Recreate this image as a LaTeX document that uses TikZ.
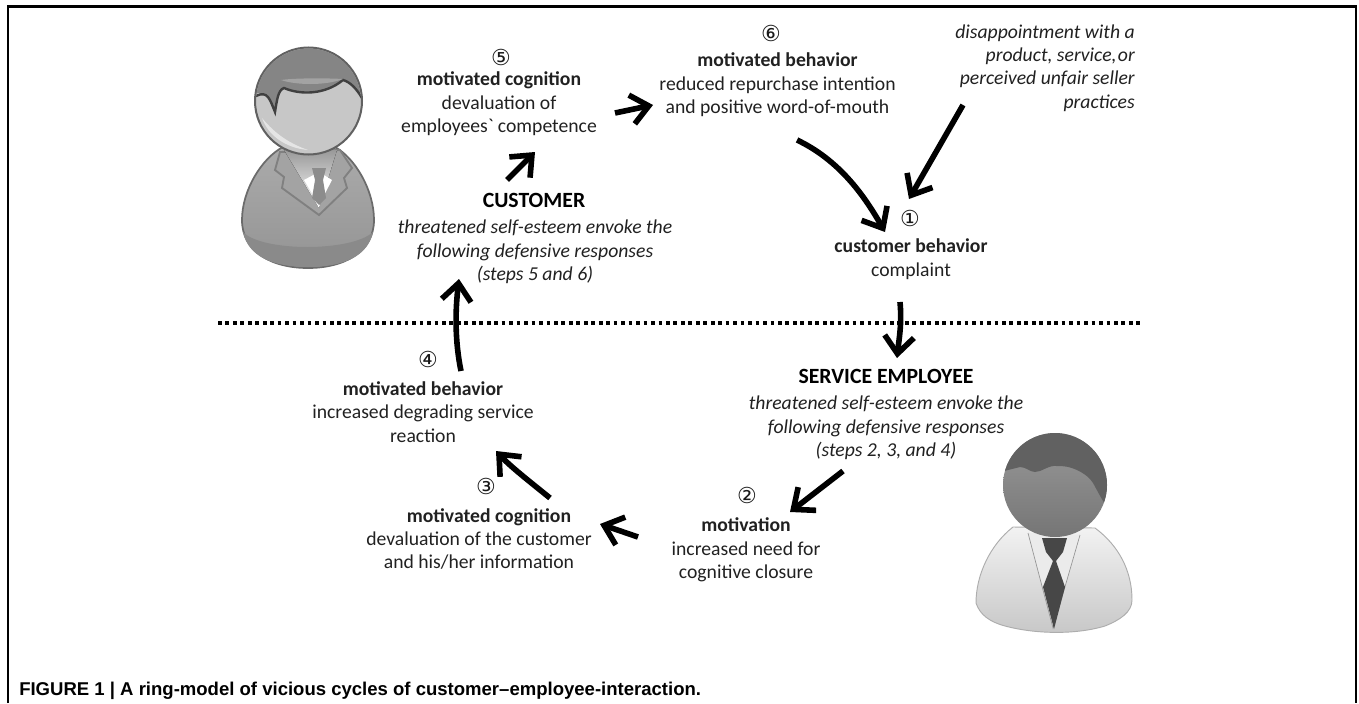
\documentclass[tikz,border=0pt]{standalone}
\usepackage{fontspec}
\setmainfont{Carlito}
\newfontfamily\plainfont{Carlito}
\newfontfamily\circfont{DejaVu Sans}
\newfontfamily\capfont{Liberation Sans}
\usetikzlibrary{arrows.meta,calc}
\definecolor{txt}{gray}{0.13}
\tikzset{
  block/.style={align=center,inner sep=0pt,text=txt,font=\fontsize{14.75}{17.6}\selectfont},
  blockr/.style={align=right,inner sep=0pt,text=txt,font=\fontsize{14.75}{17.6}\selectfont},
  heading/.style={inner sep=0pt,text=black,font=\fontsize{16.3}{18}\selectfont\bfseries},
  stepno/.style={inner sep=0pt,text=black!90,font=\fontsize{16.5}{18}\selectfont\circfont},
  arr/.style={line width=5.6*0.75pt,black,-{Straight Barb[length=13pt,width=22pt]}},
  sep/.style={line width=3.6*0.75pt,black,dash pattern=on 2.8pt off 2.8pt},
  frameline/.style={line width=2.6*0.75pt,black},
  caption/.style={inner sep=0pt,anchor=west,font=\fontsize{13.9}{16}\selectfont\capfont\bfseries}
}
\begin{document}
\begin{tikzpicture}[x=0.75pt,y=-0.75pt]
\useasboundingbox (0,0) rectangle (1359,703);
\fill[white] (0,0) rectangle (1359,703);
\draw[frameline] (8,703) -- (8,6.5) -- (1356,6.5) -- (1356,703);

% customer figure
\draw[draw=black!58,line width=1.3pt,top color=black!33,bottom color=black!42]
  (283,147) .. controls (262,158) and (242,190) .. (242,220)
  .. controls (242,252) and (272,268) .. (308,268)
  .. controls (344,268) and (374,252) .. (374,220)
  .. controls (374,190) and (355,158) .. (335,147) -- cycle;
\fill[black!46] (243,232) .. controls (262,252) and (352,252) .. (373,232)
  .. controls (368,256) and (344,267) .. (308,267)
  .. controls (272,267) and (248,256) .. (243,232) -- cycle;
\draw[draw=black!50,line width=1.4pt,fill=black!36]
  (280,152) -- (275,170) -- (284,177) -- (282,188) -- (319,215) -- (347,188) -- (344,178) -- (352,168) -- (340,150) -- cycle;
\fill[top color=black!40,bottom color=white] (284,150) -- (337,150) -- (319,208) -- cycle;
\fill[white] (304,180) -- (319,172) -- (332,180) -- (319,205) -- cycle;
\fill[black!45] (312,168) -- (326,168) -- (323,180) -- (326,198) -- (319,205) -- (312,198) -- (315,180) -- cycle;
\draw[draw=black!62,line width=1.5pt,fill=black!22] (308.5,101) circle (53.5);
\begin{scope}
  \clip (308.5,101) circle (52.5);
  \fill[black!48] (250,97) -- (258,93) .. controls (268,92) and (270,100) .. (275,112)
    .. controls (277,100) and (278,90) .. (284,88)
    .. controls (300,95) and (325,95) .. (343,80)
    .. controls (350,82) and (356,88) .. (365,100) -- (365,40) -- (250,40) -- cycle;
  \draw[black!75,line width=1.8pt] (256,96) .. controls (268,90) and (270,100) .. (275,112)
    .. controls (277,100) and (278,90) .. (284,88)
    .. controls (300,95) and (325,95) .. (343,80)
    .. controls (350,82) and (356,88) .. (362,98);
  \fill[black!36] (281,80) .. controls (295,85) and (325,86) .. (343,79) .. controls (325,78) and (295,78) .. (281,80) -- cycle;
  \fill[black!10] (262,118) .. controls (268,135) and (285,148) .. (308,150) .. controls (285,142) and (272,130) .. (262,118) -- cycle;
\end{scope}

% employee figure
\draw[draw=black!32,line width=0.7pt,top color=black!5,bottom color=black!22]
  (1013,527) .. controls (990,545) and (976,575) .. (976,603)
  .. controls (980,615) and (990,622) .. (1005,626)
  .. controls (1035,634) and (1075,635) .. (1105,626)
  .. controls (1120,620) and (1132,612) .. (1132,600)
  .. controls (1132,570) and (1118,545) .. (1095,528) -- cycle;
\fill[black!8] (1028,533) -- (1053,628) -- (1080,535) -- cycle;
\draw[black!42,line width=0.5pt] (1028,533) -- (1053,628) -- (1080,535);
\fill[black!72] (1042,538) -- (1067,538) -- (1063,552) -- (1056,561) -- (1065,587) -- (1054,629) -- (1043,587) -- (1053,561) -- (1046,552) -- cycle;
\shade[top color=black!40,bottom color=black!54] (1055,485) circle (52);
\begin{scope}
  \clip (1055,485) circle (52);
  \fill[black!62] (1000,472) -- (1020,467) .. controls (1026,467) and (1030,472) .. (1035,472)
    .. controls (1042,472) and (1048,465) .. (1057,466)
    .. controls (1068,466) and (1072,468) .. (1077,470)
    .. controls (1085,474) and (1090,478) .. (1093,483)
    .. controls (1098,492) and (1102,500) .. (1107,507) -- (1115,507) -- (1115,425) -- (1000,425) -- cycle;
\end{scope}

% separator
\draw[sep] (218,323) -- (1142,323);

% text blocks
\node[stepno] (n5) at (501,57) {⑤};
\node[block] (t5) at (499,104) {\textbf{motivated cognition}\\devaluation of\\employees{\plainfont`} competence};
\node[heading] (hc) at (534,200) {CUSTOMER};
\node[block] (tc) at (535,252) {\itshape threatened self-esteem envoke the\\\itshape following defensive responses\\\itshape (steps 5 and 6)};
\node[stepno] (n6) at (771,33) {⑥};
\node[block] (t6) at (777.5,85) {\textbf{motivated behavior}\\reduced repurchase intention\\and positive word-of-mouth};
\node[blockr,anchor=east] (td) at (1135,68) {\itshape disappointment with a\\\itshape product, service,\kern1pt or\\\itshape perceived unfair seller\\\itshape practices};
\node[stepno] (n1) at (910,218) {①};
\node[block] (t1) at (911,259) {\textbf{customer behavior}\\complaint};
\node[heading] (hs) at (886,376) {SERVICE EMPLOYEE};
\node[block] (ts) at (886,428) {\itshape threatened self-esteem envoke the\\\itshape following defensive responses\\\itshape (steps 2, 3, and 4)};
\node[stepno] (n2) at (747,495) {②};
\node[block] (t2) at (746,550) {\textbf{motivation}\\increased need for\\cognitive closure};
\node[stepno] (n3) at (486,486) {③};
\node[block] (t3) at (479,539) {\hspace*{15pt}\textbf{motivated cognition}\\devaluation of the customer\\and his/her information};
\node[stepno] (n4) at (428,359) {④};
\node[block] (t4) at (423,412) {\textbf{motivated behavior}\\increased degrading service\\reaction};
\node[caption] (cap) at (19,691) {FIGURE 1 | A ring-model of vicious cycles of customer–employee-interaction.};

% connectors
\draw[arr] ($(t5.center)+(116,9)$) -- ($(t6.center)+(-124.5,20)$);
\draw[arr] ($(hc.center)+(-27,-20)$) -- ($(t5.center)+(36,48)$);
\draw[arr] ($(t6.center)+(19.5,55)$) .. controls ($(t6.center)+(61.5,75)$) and ($(t6.center)+(86.5,110)$) .. ($(n1.center)+(-25,14)$);
\draw[arr] ($(td.east)+(-172,37)$) -- ($(n1.center)+(-1,-19)$);
\draw[arr] ($(t1.center)+(-11,43)$) .. controls ($(t1.center)+(-9,65)$) and ($(t1.center)+(-12,80)$) .. ($(hs.center)+(11,-18)$);
\draw[arr] ($(ts.center)+(-43,43)$) -- ($(t2.center)+(44,-38)$);
\draw[arr] ($(t2.center)+(-108,-13)$) -- ($(t3.center)+(121,-15)$);
\draw[arr] ($(t3.center)+(71,-41)$) .. controls ($(t3.center)+(50,-58)$) and ($(t3.center)+(32,-72)$) .. ($(t4.center)+(73,39)$);
\draw[arr] ($(t4.center)+(38,-41)$) .. controls ($(t4.center)+(32,-70)$) and ($(t4.center)+(32,-100)$) .. ($(tc.center)+(-76,27)$);
\end{tikzpicture}
\end{document}
